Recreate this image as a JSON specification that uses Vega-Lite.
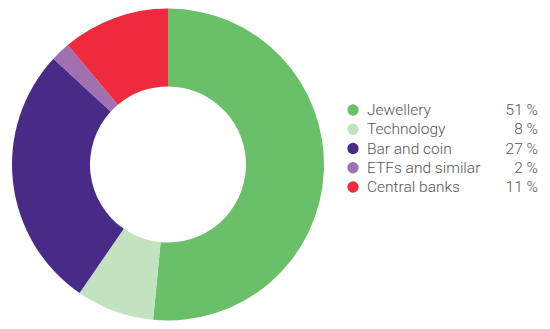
{
  "$schema": "https://vega.github.io/schema/vega-lite/v6.json",
  "padding": 0,
  "background": "white",
  "config": {"view": {"stroke": null}, "concat": {"spacing": 0}},
  "data": {"values": [
    {"rank": 1, "category": "Jewellery", "share": 51, "label": "51 %"},
    {"rank": 2, "category": "Technology", "share": 8, "label": "8 %"},
    {"rank": 3, "category": "Bar and coin", "share": 27, "label": "27 %"},
    {"rank": 4, "category": "ETFs and similar", "share": 2, "label": "2 %"},
    {"rank": 5, "category": "Central banks", "share": 11, "label": "11 %"}
  ]},
  "hconcat": [
    {
      "width": 336,
      "height": 329,
      "mark": {"type": "arc", "outerRadius": 156, "innerRadius": 78},
      "encoding": {
        "theta": {"field": "share", "type": "quantitative", "stack": true},
        "order": {"field": "rank", "type": "quantitative"},
        "color": {
          "field": "category", "type": "nominal", "legend": null,
          "scale": {
            "domain": ["Jewellery", "Technology", "Bar and coin", "ETFs and similar", "Central banks"],
            "range": ["#6abf69", "#c3e2c0", "#482a87", "#a070b0", "#ee2a3c"]
          }
        }
      }
    },
    {
      "width": 214,
      "height": 329,
      "encoding": {
        "y": {
          "field": "category", "type": "nominal", "axis": null, "sort": {"field": "rank"},
          "scale": {"type": "point", "range": [110, 187], "padding": 0}
        }
      },
      "layer": [
        {
          "mark": {"type": "circle", "size": 127, "opacity": 1},
          "encoding": {
            "x": {"datum": 0, "type": "quantitative", "axis": null, "scale": {"domain": [0, 1], "range": [17, 202]}},
            "color": {
              "field": "category", "type": "nominal", "legend": null,
              "scale": {
                "domain": ["Jewellery", "Technology", "Bar and coin", "ETFs and similar", "Central banks"],
                "range": ["#6abf69", "#c3e2c0", "#482a87", "#a070b0", "#ee2a3c"]
              }
            }
          }
        },
        {
          "mark": {"type": "text", "align": "left", "baseline": "middle", "dx": 14, "font": "Roboto", "fontWeight": 300, "fontSize": 15.5, "color": "#555555"},
          "encoding": {
            "x": {"datum": 0, "type": "quantitative"},
            "text": {"field": "category"}
          }
        },
        {
          "mark": {"type": "text", "align": "right", "baseline": "middle", "font": "Roboto", "fontWeight": 300, "fontSize": 15.5, "color": "#555555"},
          "encoding": {
            "x": {"datum": 1, "type": "quantitative"},
            "text": {"field": "label"}
          }
        }
      ]
    }
  ]
}
